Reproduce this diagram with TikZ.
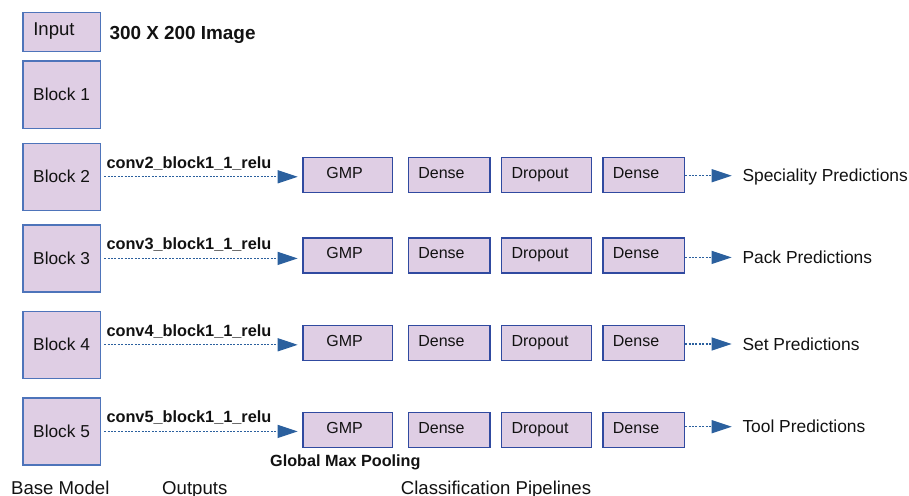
\documentclass[tikz,border=0pt]{standalone}
\usepackage{fontspec}
\setmainfont{Liberation Sans}
\usetikzlibrary{arrows.meta,calc}

\definecolor{boxfill}{RGB}{223,206,228}
\definecolor{blockedge}{RGB}{78,116,186}
\definecolor{pipeedge}{RGB}{48,74,160}
\definecolor{flowblue}{RGB}{43,96,158}
\definecolor{ink}{RGB}{18,18,18}

\begin{document}
\begin{tikzpicture}[x=1pt,y=-1pt,
  every node/.style={text=ink},
  capline/.style={text depth=0pt, inner sep=0pt},
  blockbox/.style={draw=blockedge, fill=boxfill, line width=1.2pt,
    minimum width=77.4pt, minimum height=67pt, inner sep=0pt,
    font=\fontsize{17.3}{20}\selectfont, text height=12.39pt, text depth=0pt,
    anchor=north west},
  pipebox/.style={draw=pipeedge, fill=boxfill, line width=1.2pt,
    minimum height=35pt, inner ysep=0pt, inner xsep=10pt, align=left,
    font=\fontsize{16}{19}\selectfont, text height=11.46pt, text depth=5pt,
    anchor=north west},
  flow/.style={draw=flowblue, line width=1.2pt, dash pattern=on 2pt off 1.4pt,
    -{Triangle[length=20pt,width=13pt,fill=flowblue]}},
  taplabel/.style={capline, font=\fontsize{16.3}{19}\bfseries\selectfont},
  predlabel/.style={capline, anchor=west, text height=12.46pt,
    font=\fontsize{17.4}{20}\selectfont},
  footlabel/.style={capline, anchor=west, text height=13.32pt,
    font=\fontsize{18.6}{22}\selectfont}
]
\useasboundingbox (0,0) rectangle (909,495);

% base model column
\node[blockbox, minimum height=38.7pt, text width=56.6pt, inner xsep=10.4pt,
  align=left, font=\fontsize{18.6}{22}\selectfont, text height=13.32pt,
  text depth=6.8pt]
  (in) at (22.3,12.3) {Input};
\node[capline, anchor=west, text height=13.53pt,
  font=\fontsize{18.9}{22}\bfseries\selectfont]
  (insize) at (109.3,32.3) {300 X 200 Image};
\node[blockbox, minimum height=67.4pt] (b1) at (22.3,60.3) {Block 1};
\node[blockbox] (b2) at (22.3,142.7) {Block 2};
\node[blockbox] (b3) at (22.3,224.3) {Block 3};
\node[blockbox] (b4) at (22.3,310.7) {Block 4};
\node[blockbox] (b5) at (22.3,397.3) {Block 5};

% classification pipelines, one per tapped block
\foreach \r/\t/\ya/\task in {2/156.7/175.7/Speciality, 3/237.3/257.4/Pack,
                             4/325/344/Set, 5/411.8/426.7/Tool}{
  \node[pipebox, text width=42.6pt, inner xsep=23.4pt] (g\r) at (302.3,\t) {GMP};
  \node[pipebox, text width=61.6pt] (da\r) at (407.7,\t) {Dense};
  \node[pipebox, text width=69.7pt] (dr\r) at (501,\t) {Dropout};
  \node[pipebox, text width=61.7pt] (db\r) at (602.3,\t) {Dense};
  \node[predlabel] (p\r) at (742.3,\ya) {\task\ Predictions};
  \draw[flow] ([xshift=3.3pt]b\r.east)
    -- node[taplabel, pos=0, anchor=base west, xshift=1.7pt, yshift=8.7pt]
       (t\r) {conv\r\_block1\_1\_relu}
    ($(b\r.east -| g\r.west)+(-4.6,0)$);
  \draw[flow] (p\r.west -| db\r.east) -- ($(p\r.west)+(-10.6,0)$);
}

\node[capline, anchor=west, text height=11.6pt,
  font=\fontsize{16.2}{19}\bfseries\selectfont]
  (gmpnote) at (270,461) {Global Max Pooling};

% column captions along the bottom edge
\node[footlabel] (capbase) at (11,487.4) {Base Model};
\node[footlabel] (capout) at (162,487.4) {Outputs};
\node[footlabel] (cappipe) at (400.7,487.4) {Classification Pipelines};
\end{tikzpicture}
\end{document}
